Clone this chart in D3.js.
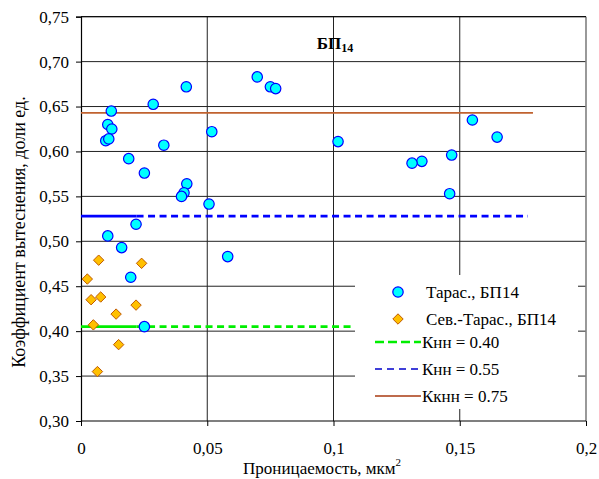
<!DOCTYPE html>
<html>
<head>
<meta charset="utf-8">
<script src="https://cdn.jsdelivr.net/npm/d3@7"></script>
<style>
  html, body { margin: 0; padding: 0; background: #fff; }
  svg { display: block; font-family: "Liberation Serif", "Times New Roman", serif; }
</style>
</head>
<body>
<svg id="chart" width="599" height="479"></svg>
<script>
// Тарас., БП14: permeability (мкм²) and displacement coefficient
const tarasPerm = [0.0120, 0.0106, 0.0122, 0.0098, 0.0110, 0.0189, 0.0286, 0.0328, 0.0251, 0.0417,
                   0.0419, 0.0408, 0.0398, 0.0218, 0.0106, 0.0161, 0.0197, 0.0251, 0.0698, 0.0750,
                   0.0771, 0.0518, 0.1018, 0.0507, 0.0581, 0.1550, 0.1648, 0.1468, 0.1350, 0.1311, 0.1460];
const tarasKvyt = [0.645, 0.630, 0.625, 0.612, 0.614, 0.592, 0.6525, 0.607, 0.576, 0.672,
                   0.564, 0.554, 0.550, 0.519, 0.506, 0.493, 0.460, 0.405, 0.683, 0.672,
                   0.670, 0.622, 0.611, 0.5415, 0.483, 0.635, 0.616, 0.596, 0.589, 0.587, 0.553];

// Сев.-Тарас., БП14
const sevPerm = [0.0070, 0.0025, 0.0240, 0.0040, 0.0078, 0.0218, 0.0139, 0.0049, 0.0149, 0.0065];
const sevKvyt = [0.479, 0.458, 0.4755, 0.435, 0.438, 0.429, 0.419, 0.407, 0.385, 0.355];

// Reference levels: label, level, x where the solid part ends, x end
const levelLabels = ["Кнн = 0.40", "Кнн = 0.55", "Ккнн = 0.75"];
const levelValues = [0.405, 0.528, 0.643];
const levelSolidEnd = [0.022, 0.022, 0.179];
const levelEnd = [0.107, 0.177, 0.179];

const xTicks = [0, 0.05, 0.1, 0.15, 0.2];
const xTickLabels = ["0", "0,05", "0,1", "0,15", "0,2"];
const yTicks = [0.30, 0.35, 0.40, 0.45, 0.50, 0.55, 0.60, 0.65, 0.70, 0.75];
const yTickLabels = ["0,30", "0,35", "0,40", "0,45", "0,50", "0,55", "0,60", "0,65", "0,70", "0,75"];

const svg = d3.select("#chart");
const plotL = 81, plotR = 586, plotT = 16.7, plotB = 421;

const x = d3.scaleLinear().domain([0, 0.2]).range([plotL, plotR]);
const y = d3.scaleLinear().domain([0.30, 0.75]).range([plotB, plotT]);

svg.append("rect").attr("width", 599).attr("height", 479).attr("fill", "#fff");

// grid
const grid = svg.append("g");
grid.selectAll("line.h").data(yTicks.slice(1)).join("line")
  .attr("class", "h")
  .attr("x1", plotL).attr("x2", plotR)
  .attr("y1", d => y(d)).attr("y2", d => y(d))
  .attr("stroke", "#222").attr("stroke-width", 1);
grid.selectAll("line.v").data(xTicks.slice(1, 4)).join("line")
  .attr("class", "v")
  .attr("x1", d => x(d)).attr("x2", d => x(d))
  .attr("y1", plotT).attr("y2", plotB)
  .attr("stroke", "#222").attr("stroke-width", 1);
grid.append("line")
  .attr("x1", x(0.2)).attr("x2", x(0.2)).attr("y1", plotT).attr("y2", plotB)
  .attr("stroke", "#808080").attr("stroke-width", 1.6);

// legend background hides the grid behind it
const lg = { x: 355, y: 275, w: 223, h: 134 };
svg.append("rect").attr("x", lg.x).attr("y", lg.y).attr("width", lg.w).attr("height", lg.h).attr("fill", "#fff");

// axes
const fmtY = d => yTickLabels[yTicks.indexOf(d)];
const fmtX = d => xTickLabels[xTicks.indexOf(d)];

const yAxis = svg.append("g").attr("transform", `translate(${plotL},0)`)
  .call(d3.axisLeft(y).tickValues(yTicks).tickFormat(fmtY).tickSize(5).tickPadding(7));
const xAxis = svg.append("g").attr("transform", `translate(0,${plotB})`)
  .call(d3.axisBottom(x).tickValues(xTicks).tickFormat(fmtX).tickSize(5).tickPadding(16));
[yAxis, xAxis].forEach(a => {
  a.select(".domain").attr("stroke", "#000").attr("stroke-width", 1.2);
  a.selectAll(".tick line").attr("stroke", "#000");
  a.selectAll("text").attr("font-size", 17).attr("fill", "#000")
    .attr("font-family", "'Liberation Serif', 'Times New Roman', serif");
});
xAxis.select(".domain").attr("d", `M${plotL},0H${plotR}`);

// top border
svg.append("line").attr("x1", plotL).attr("x2", plotR).attr("y1", plotT).attr("y2", plotT)
  .attr("stroke", "#000").attr("stroke-width", 1);

// reference level lines
const levelStyles = [
  { color: "#00ee00", width: 2.6, dash: "7,4.5" },
  { color: "#0000ff", width: 2.6, dash: "7,4.5" },
  { color: "#c0622f", width: 1.8, dash: null }
];
const levels = svg.append("g");
levelValues.forEach((v, i) => {
  const s = levelStyles[i];
  levels.append("line")
    .attr("x1", x(0)).attr("x2", x(levelSolidEnd[i]))
    .attr("y1", y(v)).attr("y2", y(v))
    .attr("stroke", s.color).attr("stroke-width", s.width);
  if (levelEnd[i] > levelSolidEnd[i]) {
    levels.append("line")
      .attr("x1", x(levelSolidEnd[i])).attr("x2", x(levelEnd[i]))
      .attr("y1", y(v)).attr("y2", y(v))
      .attr("stroke", s.color).attr("stroke-width", s.width)
      .attr("stroke-dasharray", s.dash);
  }
});

// points
const diamond = r => `M0,${-r}L${r},0L0,${r}L${-r},0Z`;
svg.append("g").selectAll("path").data(sevPerm.map((p, i) => [p, sevKvyt[i]])).join("path")
  .attr("d", diamond(5.2))
  .attr("transform", d => `translate(${x(d[0])},${y(d[1])})`)
  .attr("fill", "#ffc000").attr("stroke", "#c05a00").attr("stroke-width", 1);

svg.append("g").selectAll("circle").data(tarasPerm.map((p, i) => [p, tarasKvyt[i]])).join("circle")
  .attr("cx", d => x(d[0])).attr("cy", d => y(d[1])).attr("r", 5.2)
  .attr("fill", "#00ffff").attr("stroke", "#0000ff").attr("stroke-width", 1.2);

// title
const title = svg.append("text").attr("x", 335).attr("y", 49).attr("text-anchor", "middle")
  .attr("font-weight", "bold").attr("font-size", 17).attr("fill", "#000");
title.append("tspan").text("БП");
title.append("tspan").attr("font-size", 12).attr("dy", 3).text("14");

// axis titles
const xt = svg.append("text").attr("x", 322).attr("y", 474).attr("text-anchor", "middle")
  .attr("font-size", 17).attr("fill", "#000");
xt.append("tspan").text("Проницаемость, мкм");
xt.append("tspan").attr("font-size", 11).attr("dy", -8).text("2");

svg.append("text")
  .attr("transform", "translate(25,232) rotate(-90)")
  .attr("text-anchor", "middle").attr("font-size", 18).attr("fill", "#000")
  .text("Коэффициент вытеснения, доли ед.");

// legend
const legend = svg.append("g");
const lx = 398, ltx = 426;
legend.append("circle").attr("cx", lx).attr("cy", 292).attr("r", 5.2)
  .attr("fill", "#00ffff").attr("stroke", "#0000ff").attr("stroke-width", 1.2);
legend.append("path").attr("d", diamond(5.2)).attr("transform", `translate(${lx},319)`)
  .attr("fill", "#ffc000").attr("stroke", "#c05a00").attr("stroke-width", 1);
const legendLineStyles = [
  { color: "#00ee00", width: 2.6, dash: "9,4" },
  { color: "#0000cc", width: 1.5, dash: "7,5" },
  { color: "#a83a10", width: 1.5, dash: null }
];
const seriesNames = ["Тарас., БП14", "Сев.-Тарас., БП14"];
const legendRows = [292, 319, 342, 369, 396];
seriesNames.forEach((n, i) => {
  legend.append("text").attr("x", ltx).attr("y", legendRows[i] + 6)
    .attr("font-size", 17).attr("fill", "#000").text(n);
});
levelLabels.forEach((n, i) => {
  const ry = legendRows[i + 2];
  const s = legendLineStyles[i];
  legend.append("line").attr("x1", 375).attr("x2", 421).attr("y1", ry).attr("y2", ry)
    .attr("stroke", s.color).attr("stroke-width", s.width)
    .attr("stroke-dasharray", s.dash);
  legend.append("text").attr("x", 422).attr("y", ry + 6)
    .attr("font-size", 17).attr("fill", "#000").text(n);
});
</script>
</body>
</html>
